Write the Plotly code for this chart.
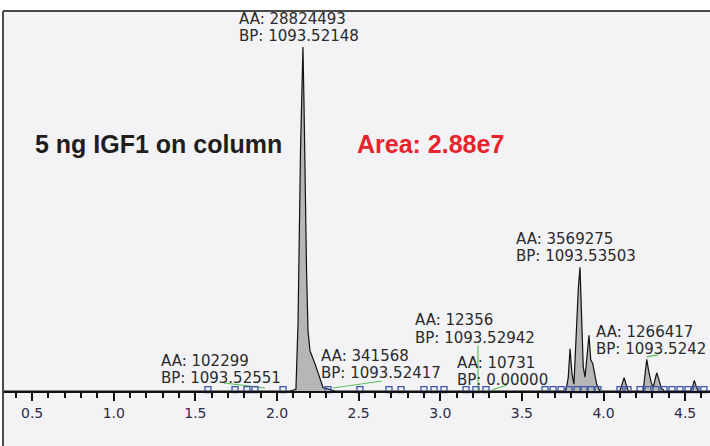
import plotly.graph_objects as go

# ---- chromatogram (retention time, relative intensity) ----
rt = [0.32, 2.08, 2.116, 2.129, 2.144, 2.153, 2.159, 2.165, 2.172, 2.181, 2.190, 2.202, 2.233, 2.282, 2.355,
      3.764, 3.773, 3.784, 3.795, 3.807, 3.819, 3.832, 3.846, 3.856, 3.866, 3.876, 3.887, 3.901, 3.911,
      3.922, 3.934, 3.944, 3.958, 3.978,
      4.101, 4.114, 4.126, 4.138, 4.151,
      4.243, 4.255, 4.265, 4.276, 4.292, 4.304, 4.310, 4.326, 4.341, 4.353, 4.371,
      4.532, 4.548, 4.556, 4.567, 4.579, 4.66]
intensity = [0, 0, 0.5, 20, 70, 92, 100, 85, 60, 35, 17.5, 11.7, 7.9, 1, 0,
             0, 1, 3.9, 12.3, 5, 2, 17.5, 30, 36, 17.5, 7, 4, 12.7, 16.2,
             9, 8, 5.5, 2, 0,
             0, 2, 3.9, 2, 0,
             0, 5, 9.2, 6, 2.5, 1, 2, 5.3, 3, 1, 0,
             0, 1.5, 3.1, 1.5, 0, 0]

# ---- integration markers (peak start/end) ----
marker_rt = [1.577, 1.743, 1.816, 1.865, 2.037, 2.312, 2.508, 2.686, 2.760, 2.900, 2.962, 3.023,
             3.158, 3.219, 3.280, 3.642, 3.691, 3.740, 3.789, 3.838, 3.881, 3.924, 3.966,
             4.101, 4.150, 4.224, 4.272, 4.321, 4.371, 4.420, 4.469, 4.518, 4.567, 4.615]

# ---- integration baselines (green) ----
base_rt = [1.675, 1.926, None, 2.343, 2.643, None, 3.231, 3.231, None, 3.317, 3.409, None, 4.264, 4.335]
base_y = [2.33, 0.87, None, 0.87, 2.9, None, 0, 13.2, None, 0.3, 1.75, None, 9.9, 10.5]

# ---- peak labels ----
label_aa = ["28824493", "102299", "341568", "12356", "10731", "3569275", "1266417"]
label_bp = ["1093.52148", "1093.52551", "1093.52417", "1093.52942", "0.00000", "1093.53503", "1093.5242"]
label_rt = [1.760, 1.284, 2.264, 2.839, 3.097, 3.458, 3.948]
label_y_aa = [108.2, 8.8, 10.12, 20.7, 8.2, 44.13, 17.2]
label_y_bp = [103.3, 3.87, 5.17, 15.5, 3.28, 39.19, 12.3]

tick_vals = [0.5, 1.0, 1.5, 2.0, 2.5, 3.0, 3.5, 4.0, 4.5]
tick_text = ["0.5", "1.0", "1.5", "2.0", "2.5", "3.0", "3.5", "4.0", "4.5"]

BG = "#f3f3f5"

fig = go.Figure()
fig.add_trace(go.Scatter(x=rt, y=intensity, mode="lines", fill="tozeroy",
                         fillcolor="#b6b6b6", line=dict(color="#111111", width=1.2),
                         hoverinfo="skip", showlegend=False))
fig.add_trace(go.Scatter(x=base_rt, y=base_y, mode="lines",
                         line=dict(color="#5cc05c", width=1.2), connectgaps=False,
                         hoverinfo="skip", showlegend=False))
fig.add_trace(go.Scatter(x=marker_rt, y=[0.4] * len(marker_rt), mode="markers",
                         marker=dict(symbol="square-open", size=6, color="#3d56aa",
                                     line=dict(width=1.3, color="#3d56aa")),
                         hoverinfo="skip", showlegend=False, cliponaxis=False))

annotations = []
lab_font = dict(family="DejaVu Sans", size=15, color="#2a2a2a")
for aa, bp, x, ya, yb in zip(label_aa, label_bp, label_rt, label_y_aa, label_y_bp):
    annotations.append(dict(x=x, y=ya, xref="x", yref="y", text="AA: " + aa, showarrow=False,
                            xanchor="left", yanchor="middle", font=lab_font, borderpad=0))
    annotations.append(dict(x=x, y=yb, xref="x", yref="y", text="BP: " + bp, showarrow=False,
                            xanchor="left", yanchor="middle", font=lab_font, borderpad=0))

annotations.append(dict(x=0.0445, y=0.6492, xref="paper", yref="paper",
                        text="<b>5 ng IGF1 on column</b>", showarrow=False,
                        xanchor="left", yanchor="middle", borderpad=0,
                        font=dict(family="Liberation Sans", size=25, color="#1e1e1e")))
annotations.append(dict(x=0.4995, y=0.6492, xref="paper", yref="paper",
                        text="<b>Area: 2.88e7</b>", showarrow=False,
                        xanchor="left", yanchor="middle", borderpad=0,
                        font=dict(family="Liberation Sans", size=25, color="#e8232b")))

shapes = [
    dict(type="rect", xref="paper", yref="paper", x0=0, x1=1.02, y0=-0.2, y1=1,
         fillcolor=BG, line=dict(width=0), layer="below"),
    dict(type="line", xref="paper", yref="paper", x0=0, x1=1.02, y0=1, y1=1,
         line=dict(color="#4a4a4a", width=2), layer="above"),
    dict(type="line", xref="paper", yref="paper", x0=0, x1=0, y0=-0.2, y1=1,
         line=dict(color="#4a4a4a", width=2), layer="above"),
]

fig.update_layout(
    width=710, height=446,
    margin=dict(l=3, r=0, t=11, b=55),
    paper_bgcolor="white", plot_bgcolor=BG,
    annotations=annotations, shapes=shapes,
    xaxis=dict(range=[0.3216, 4.6524], showgrid=False, zeroline=False,
               showline=True, linecolor="#111111", linewidth=1.5,
               ticks="outside", ticklen=8, tickwidth=1.5, tickcolor="#111111",
               tickvals=tick_vals, ticktext=tick_text,
               tickfont=dict(family="DejaVu Sans", size=14, color="#2b2b45"),
               minor=dict(dtick=0.1, tick0=0.0, ticks="outside", ticklen=5,
                          tickwidth=1.5, tickcolor="#111111")),
    yaxis=dict(range=[0, 110.5], visible=False, showgrid=False, zeroline=False),
    showlegend=False,
)

fig.write_html("out.html")
